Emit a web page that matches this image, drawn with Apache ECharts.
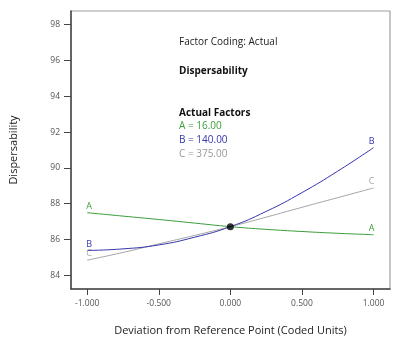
<!DOCTYPE html>
<html><head><meta charset="utf-8">
<script src="https://cdn.jsdelivr.net/npm/echarts@6/dist/echarts.min.js"></script>
<style>html,body{margin:0;padding:0;background:#fff}#c{width:397px;height:341px}</style>
</head><body><div id="c"></div>
<script>
const xValues = [-1, -0.75, -0.5, -0.25, 0, 0.25, 0.5, 0.75, 1];
const seriesA = [87.50, 87.31, 87.12, 86.92, 86.72, 86.57, 86.45, 86.35, 86.27];
const seriesB = [85.39, 85.48, 85.70, 86.13, 86.72, 87.57, 88.62, 89.82, 91.13];
const seriesC = [84.85, 85.28, 85.76, 86.23, 86.72, 87.25, 87.80, 88.34, 88.88];
const refPoint = [0, 86.72];
const xTicks = [-1, -0.5, 0, 0.5, 1];
const yTicks = [84, 86, 88, 90, 92, 94, 96, 98];
const xRange = [-1.113, 1.115];
const yRange = [83.24, 98.76];
const seriesNames = ['A', 'B', 'C'];
const colors = ['#3a9d3a', '#3636ae', '#a6a6a6'];
const infoLines = ['Factor Coding: Actual', 'Dispersability', 'Actual Factors', 'A = 16.00', 'B = 140.00', 'C = 375.00'];

const FONT = '"Open Sans", "Noto Sans", sans-serif';
const chart = echarts.init(document.getElementById('c'), null, {renderer: 'canvas'});

function mk(name, vals, color) {
  const n = vals.length;
  return {
    name, type: 'line', smooth: true, symbol: 'none',
    lineStyle: {color, width: 1},
    data: vals.map((v, i) => {
      const d = {value: [xValues[i], v]};
      if (i === 0 || i === n - 1) {
        d.symbol = 'circle'; d.symbolSize = 0.1;
        d.label = {show: true, formatter: name, position: 'top', distance: 2,
          offset: [i === 0 ? 2 : -2, 0],
          color, fontSize: 9, fontFamily: FONT};
      }
      return d;
    }),
    z: 3
  };
}

const textStyleBase = {fontFamily: FONT, fontSize: 10};
const tx = 179;
const graphics = [
  {type: 'text', left: tx, top: 37, style: Object.assign({}, textStyleBase, {text: infoLines[0], fill: '#222'})},
  {type: 'text', left: tx, top: 66, style: Object.assign({}, textStyleBase, {text: infoLines[1], fill: '#111', fontWeight: 'bold'})},
  {type: 'text', left: tx, top: 108, style: Object.assign({}, textStyleBase, {text: infoLines[2], fill: '#111', fontWeight: 'bold'})},
  {type: 'text', left: tx, top: 121, style: Object.assign({}, textStyleBase, {text: infoLines[3], fill: colors[0]})},
  {type: 'text', left: tx, top: 135.5, style: Object.assign({}, textStyleBase, {text: infoLines[4], fill: colors[1]})},
  {type: 'text', left: tx, top: 149, style: Object.assign({}, textStyleBase, {text: infoLines[5], fill: '#999'})}
];

chart.setOption({
  animation: false,
  backgroundColor: '#fff',
  grid: {left: 67, top: 11, right: 7, bottom: 49, show: true, borderColor: '#a0a0a0', borderWidth: 1.2},
  xAxis: {
    type: 'value', min: xRange[0], max: xRange[1],
    name: 'Deviation from Reference Point (Coded Units)', nameLocation: 'middle', nameGap: 36,
    nameTextStyle: {fontFamily: FONT, fontSize: 11, color: '#222'},
    axisLine: {show: true, onZero: false, lineStyle: {color: '#444', width: 1.5}},
    axisTick: {show: true, length: 6, customValues: xTicks, lineStyle: {color: '#444'}},
    axisLabel: {customValues: xTicks, margin: 10, fontFamily: FONT, fontSize: 8.5, color: '#555',
      formatter: v => v.toFixed(3)},
    splitLine: {show: false}
  },
  yAxis: {
    type: 'value', min: yRange[0], max: yRange[1],
    name: 'Dispersability', nameLocation: 'middle', nameGap: 52, nameRotate: 90,
    nameTextStyle: {fontFamily: FONT, fontSize: 11, color: '#222'},
    axisLine: {show: true, onZero: false, lineStyle: {color: '#444', width: 1.5}},
    axisTick: {show: true, length: 7, customValues: yTicks, lineStyle: {color: '#444'}},
    axisLabel: {customValues: yTicks, margin: 11, fontFamily: FONT, fontSize: 8.5, color: '#555',
      formatter: v => String(v)},
    splitLine: {show: false}
  },
  series: [
    mk(seriesNames[0], seriesA, colors[0]),
    mk(seriesNames[2], seriesC, colors[2]),
    mk(seriesNames[1], seriesB, colors[1]),
    {type: 'scatter', data: [refPoint], symbolSize: 7, itemStyle: {color: '#000'}, z: 5}
  ],
  graphic: graphics
});
</script></body></html>
